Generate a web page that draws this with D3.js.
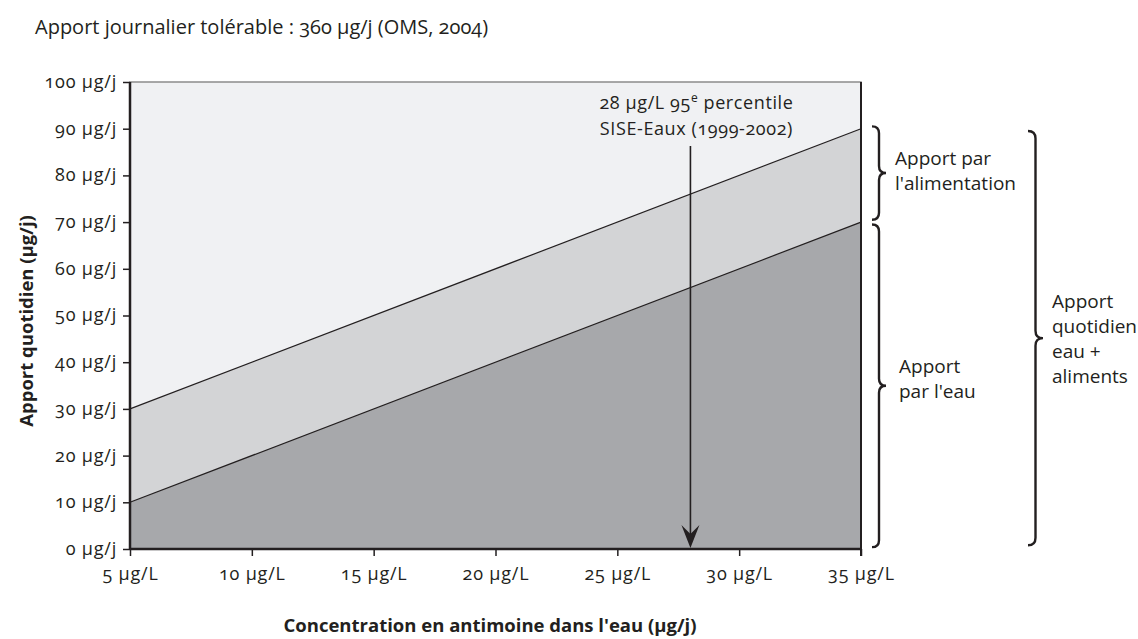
<!DOCTYPE html>
<html><head><meta charset="utf-8">
<script src="https://cdn.jsdelivr.net/npm/d3@7"></script>
<style>
body{margin:0;background:#fff;}
svg text{font-family:"Open Sans","Noto Sans",sans-serif;fill:#231f20;font-variant-numeric:oldstyle-nums;}
</style></head><body>
<svg id="c" width="1138" height="639"></svg>
<script>
const xTicks = [5,10,15,20,25,30,35];
const yTicks = [0,10,20,30,40,50,60,70,80,90,100];
const concentration = [5,35];
const waterIntake = [10,70];
const totalIntake = [30,90];
const arrowX = 28;
const title = "Apport journalier tolérable : 360 µg/j (OMS, 2004)";
const arrowLabel1 = "28 µg/L 95";
const arrowLabel2 = "SISE-Eaux (1999-2002)";

const svg = d3.select("#c");
const x = d3.scaleLinear().domain([5,35]).range([130,861]);
const y = d3.scaleLinear().domain([0,100]).range([549,82]);

// background
svg.append("rect").attr("x",x(5)).attr("y",y(100)).attr("width",x(35)-x(5)).attr("height",y(0)-y(100))
  .attr("fill","#f0f1f3").attr("stroke","#8c8c8c").attr("stroke-width",1.5);

const pts = concentration.map((c,i)=>({c, w:waterIntake[i], t:totalIntake[i]}));
const areaTotal = d3.area().x(d=>x(d.c)).y0(y(0)).y1(d=>y(d.t));
const areaWater = d3.area().x(d=>x(d.c)).y0(y(0)).y1(d=>y(d.w));
svg.append("path").datum(pts).attr("d",areaTotal).attr("fill","#d3d4d6");
svg.append("path").datum(pts).attr("d",areaWater).attr("fill","#a7a8ab");
const lineT = d3.line().x(d=>x(d.c)).y(d=>y(d.t));
const lineW = d3.line().x(d=>x(d.c)).y(d=>y(d.w));
svg.append("path").datum(pts).attr("d",lineT).attr("fill","none").attr("stroke","#231f20").attr("stroke-width",1.2);
svg.append("path").datum(pts).attr("d",lineW).attr("fill","none").attr("stroke","#231f20").attr("stroke-width",1.2);

// right border
svg.append("line").attr("x1",x(35)).attr("x2",x(35)).attr("y1",y(100)).attr("y2",y(0)+7).attr("stroke","#231f20").attr("stroke-width",2);

// axes
const yAxis = svg.append("g").attr("transform",`translate(${x(5)},0)`)
  .call(d3.axisLeft(y).tickValues(yTicks).tickSize(7).tickPadding(6).tickFormat(d=>d+" µg/j"));
const xAxis = svg.append("g").attr("transform",`translate(0,${y(0)})`)
  .call(d3.axisBottom(x).tickValues(xTicks).tickSize(7).tickPadding(11).tickFormat(d=>d+" µg/L"));
[yAxis,xAxis].forEach(a=>{
  a.select(".domain").attr("stroke","#231f20").attr("stroke-width",2.5);
  a.selectAll(".tick line").attr("stroke","#231f20").attr("stroke-width",1.5);
  a.selectAll(".tick text").style("font-size","18px").style("letter-spacing","0.8px").attr("fill","#231f20");
});
yAxis.select(".domain").attr("d",`M0,${y(100)}V${y(0)}`);
xAxis.select(".domain").attr("d",`M${x(5)},0H${x(35)}`);
yAxis.selectAll(".tick text").attr("dy","0.3em");

// arrow
svg.append("line").attr("x1",x(arrowX)).attr("x2",x(arrowX)).attr("y1",146).attr("y2",y(0)-12)
  .attr("stroke","#231f20").attr("stroke-width",1.6);
svg.append("path").attr("d",`M${x(arrowX)-9},${y(0)-24} L${x(arrowX)},${y(0)-1} L${x(arrowX)+9},${y(0)-24} L${x(arrowX)},${y(0)-15} Z`).attr("fill","#231f20");

const t1 = svg.append("text").attr("x",x(arrowX)+6).attr("y",109).attr("text-anchor","middle").style("font-size","18px").style("letter-spacing","0.6px");
t1.append("tspan").text(arrowLabel1);
t1.append("tspan").text("e").attr("dy","-7").style("font-size","12px");
t1.append("tspan").text(" percentile").attr("dy","7");
svg.append("text").attr("x",x(arrowX)+6).attr("y",135).attr("text-anchor","middle").style("font-size","18px").style("letter-spacing","0.6px").text(arrowLabel2);

// braces
function brace(xb, y1, y2, w){
  const ym=(y1+y2)/2, h=w/2;
  return `M${xb},${y1} Q${xb+h},${y1} ${xb+h},${y1+h} L${xb+h},${ym-h} Q${xb+h},${ym} ${xb+w},${ym} Q${xb+h},${ym} ${xb+h},${ym+h} L${xb+h},${y2-h} Q${xb+h},${y2} ${xb},${y2}`;
}
const bstyle = s=>s.attr("fill","none").attr("stroke","#231f20").attr("stroke-width",2.4);
svg.append("path").attr("d",brace(872,y(90.5),y(70.5),14)).call(bstyle);
svg.append("path").attr("d",brace(872,y(69.5),y(0.4),14)).call(bstyle);
svg.append("path").attr("d",brace(1028,y(89.5),y(0.8),15)).call(bstyle);

function multi(xp, yp, lines, dy){
  const t = svg.append("text").attr("x",xp).attr("y",yp).style("font-size","19px");
  lines.forEach((l,i)=>t.append("tspan").attr("x",xp).attr("dy",i?dy:0).text(l));
  return t;
}
multi(895,165,["Apport par","l'alimentation"],25);
multi(899,373,["Apport","par l'eau"],25);
multi(1052,308,["Apport","quotidien","eau +","aliments"],25);

// titles
svg.append("text").attr("x",35).attr("y",34).style("font-size","20px").text(title);
svg.append("text").attr("transform",`translate(33,321) rotate(-90)`).attr("text-anchor","middle")
  .style("font-size","18.5px").style("font-weight","bold").text("Apport quotidien (µg/j)");
svg.append("text").attr("x",490).attr("y",632).attr("text-anchor","middle")
  .style("font-size","18.5px").style("font-weight","bold").text("Concentration en antimoine dans l'eau (µg/j)");
</script></body></html>
